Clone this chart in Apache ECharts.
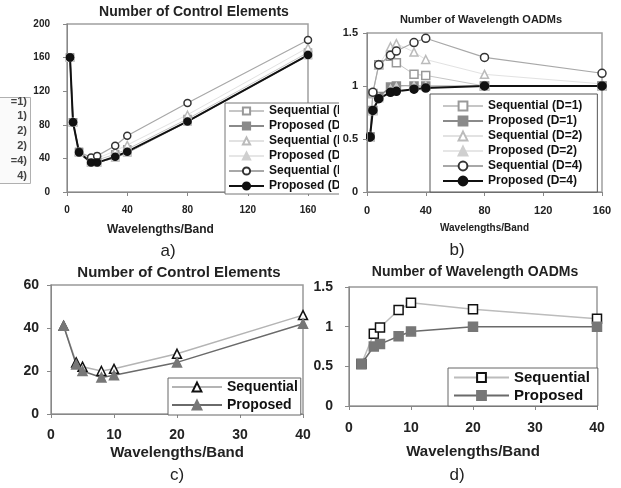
<!DOCTYPE html>
<html>
<head>
<meta charset="utf-8">
<script src="https://cdn.jsdelivr.net/npm/echarts@6/dist/echarts.min.js"></script>
<style>
  html, body { margin: 0; padding: 0; background: #fff; }
  #chart { width: 621px; height: 488px; }
</style>
</head>
<body>
<div id="chart"></div>
<script>
// wavelengths per band (x values)
const wlAB = [2, 4, 8, 16, 20, 32, 40, 80, 160];
const wlCD = [2, 4, 5, 8, 10, 20, 40];

// a) number of control elements
const seqD1A = [160, 83, 48, 37, 38, 45, 51, 87, 166];
const propD1A = [160, 83, 47, 35, 35, 41, 47, 84, 163];
const seqD2A = [160, 83, 48, 39, 40, 49, 56, 92, 172];
const propD2A = [160, 83, 47, 35, 35, 41, 47, 84, 163];
const seqD4A = [160, 83, 48, 41, 43, 55, 67, 106, 181];
const propD4A = [160, 83, 47, 35, 35, 42, 48, 84, 163];

// b) number of wavelength OADMs
const seqD1B = [0.52, 0.93, 1.20, 1.28, 1.22, 1.11, 1.10, 1.00, 1.00];
const propD1B = [0.52, 0.77, 0.90, 0.99, 1.00, 1.00, 1.00, 1.00, 1.00];
const seqD2B = [0.52, 0.93, 1.20, 1.37, 1.40, 1.32, 1.25, 1.11, 1.02];
const propD2B = [0.52, 0.77, 0.89, 0.97, 0.99, 1.00, 1.00, 1.00, 1.00];
const seqD4B = [0.52, 0.94, 1.20, 1.29, 1.33, 1.41, 1.45, 1.27, 1.12];
const propD4B = [0.52, 0.77, 0.88, 0.94, 0.95, 0.97, 0.98, 1.00, 1.00];

// c) control elements, d) OADMs
const seqC = [41, 24, 22, 20, 21, 28, 46];
const propC = [41, 23, 20, 17, 18, 24, 42];
const seqD = [0.53, 0.91, 0.99, 1.21, 1.30, 1.22, 1.10];
const propD = [0.53, 0.75, 0.78, 0.88, 0.94, 1.00, 1.00];

const legendAB = ['Sequential (D=1)', 'Proposed (D=1)', 'Sequential (D=2)', 'Proposed (D=2)', 'Sequential (D=4)', 'Proposed (D=4)'];
const legendCD = ['Sequential', 'Proposed'];
const ticksLeftA = ['=1)', '1)', '2)', '2)', '=4)', '4)'];

const FONT = '"Liberation Sans", Arial, sans-serif';

// per-series look (symbol, line colour, marker fill / border)
const looksAB = [
  { symbol: 'rect', line: '#c6c6c6', fill: '#fff', border: '#999', w: 1 },
  { symbol: 'rect', line: '#8a8a8a', fill: '#8a8a8a', border: '#8a8a8a', w: 1.5 },
  { symbol: 'triangle', line: '#e2e2e2', fill: '#fff', border: '#bbb', w: 1 },
  { symbol: 'triangle', line: '#e6e6e6', fill: '#cfcfcf', border: '#cfcfcf', w: 1 },
  { symbol: 'circle', line: '#a8a8a8', fill: '#fff', border: '#333', w: 1.2 },
  { symbol: 'circle', line: '#111', fill: '#111', border: '#111', w: 2 }
];

function pairs(xs, ys) {
  return xs.map((x, i) => [x, ys[i]]);
}

function mk(prefix, name, xs, ys, idx, look, size) {
  return {
    name: prefix + name,
    type: 'line',
    xAxisIndex: idx,
    yAxisIndex: idx,
    data: pairs(xs, ys),
    symbol: look.symbol,
    symbolSize: size,
    lineStyle: { color: look.line, width: look.w },
    itemStyle: { color: look.fill, borderColor: look.border, borderWidth: 1.5 },
    emphasis: { disabled: true }
  };
}

const seriesA = [seqD1A, propD1A, seqD2A, propD2A, seqD4A, propD4A]
  .map((ys, i) => mk('a:', legendAB[i], wlAB, ys, 0, looksAB[i], 7));
const seriesB = [seqD1B, propD1B, seqD2B, propD2B, seqD4B, propD4B]
  .map((ys, i) => mk('b:', legendAB[i], wlAB, ys, 1, looksAB[i], 8));
const seriesC = [
  mk('c:', 'Sequential', wlCD, seqC, 2, { symbol: 'triangle', line: '#b4b4b4', fill: '#fff', border: '#111', w: 1.5 }, 9),
  mk('c:', 'Proposed', wlCD, propC, 2, { symbol: 'triangle', line: '#6a6a6a', fill: '#777', border: '#777', w: 1.5 }, 9)
];
const seriesD = [
  mk('d:', 'Sequential', wlCD, seqD, 3, { symbol: 'rect', line: '#bcbcbc', fill: '#fff', border: '#111', w: 1.5 }, 9),
  mk('d:', 'Proposed', wlCD, propD, 3, { symbol: 'rect', line: '#6a6a6a', fill: '#777', border: '#777', w: 1.5 }, 9)
];

function xAx(idx, max, interval, size, nameSize, margin, nameGap, namePad) {
  return {
    type: 'value', gridIndex: idx, min: 0, max: max, interval: interval,
    axisLine: { lineStyle: { color: '#888' } },
    axisTick: { length: 4, lineStyle: { color: '#888' } },
    splitLine: { show: false },
    axisLabel: { margin: margin, color: '#222', fontFamily: FONT, fontSize: size, fontWeight: 'bold' },
    name: 'Wavelengths/Band', nameLocation: 'middle', nameGap: nameGap,
    nameTextStyle: { color: '#222', fontFamily: FONT, fontSize: nameSize, fontWeight: 'bold', padding: namePad || 0 }
  };
}

function yAx(idx, max, interval, size, margin, zlevel) {
  return {
    type: 'value', gridIndex: idx, min: 0, max: max, interval: interval, zlevel: zlevel || 0,
    axisLine: { show: true, lineStyle: { color: '#888' } },
    axisTick: { show: true, length: 4, lineStyle: { color: '#888' } },
    splitLine: { show: false },
    axisLabel: { margin: margin, color: '#222', fontFamily: FONT, fontSize: size, fontWeight: 'bold' }
  };
}

function lg(prefix, names, pos, size, itemW, itemH, gap, pad, border) {
  return {
    orient: 'vertical', left: pos[0], top: pos[1],
    data: names.map(n => prefix + n),
    formatter: n => n.slice(2),
    itemWidth: itemW, itemHeight: itemH, itemGap: gap, padding: pad,
    backgroundColor: '#fff', borderColor: border, borderWidth: 1, borderRadius: 0,
    selectedMode: false,
    textStyle: { color: '#111', fontFamily: FONT, fontSize: size, fontWeight: 'bold' }
  };
}

function ttl(text, x, y, size, weight) {
  return {
    text: text, left: x, top: y, textAlign: 'center', padding: 0,
    textStyle: { color: '#222', fontFamily: FONT, fontSize: size, fontWeight: weight }
  };
}

const chart = echarts.init(document.getElementById('chart'), null, { renderer: 'canvas' });
chart.setOption({
  backgroundColor: '#fff',
  animation: false,
  title: [
    ttl('Number of Control Elements', 194, 5, 14, 'bold'),
    ttl('Number of Wavelength OADMs', 481, 14, 11, 'bold'),
    ttl('Number of Control Elements', 179, 265, 15, 'bold'),
    ttl('Number of Wavelength OADMs', 475, 265, 14, 'bold'),
    ttl('a)', 168, 243, 17, 'normal'),
    ttl('b)', 457, 242, 17, 'normal'),
    ttl('c)', 177, 467, 17, 'normal'),
    ttl('d)', 457, 467, 17, 'normal')
  ],
  grid: [
    { left: 67, top: 24, width: 241, height: 168, show: true, borderColor: '#a0a0a0', borderWidth: 1.5 },
    { left: 367, top: 33, width: 235, height: 159, show: true, borderColor: '#a0a0a0', borderWidth: 1.5 },
    { left: 51, top: 285, width: 252, height: 129, show: true, borderColor: '#999', borderWidth: 1.5 },
    { left: 349, top: 287, width: 248, height: 119, show: true, borderColor: '#999', borderWidth: 1.5 }
  ],
  xAxis: [
    xAx(0, 160, 40, 10, 12, 13, 32, [0, 54, 0, 0]),
    xAx(1, 160, 40, 11, 10, 13, 31),
    xAx(2, 40, 10, 14, 15, 14, 31),
    xAx(3, 40, 10, 14, 15, 15, 38)
  ],
  yAxis: [
    yAx(0, 200, 40, 10, 17),
    yAx(1, 1.5, 0.5, 11, 9, 1),
    yAx(2, 60, 20, 14, 12),
    yAx(3, 1.5, 0.5, 14, 16)
  ],
  legend: [
    lg('a:', legendAB, [225, 103], 12, 35, 9, 3, [2, 2, 2, 3], '#777'),
    lg('b:', legendAB, [430, 94], 12, 40, 11, 3, [6, 15, 5, 12], '#555'),
    lg('c:', legendCD, [168, 378], 14, 50, 11, 4, [2, 3, 3, 3], '#666'),
    lg('d:', legendCD, [448, 368], 15, 55, 11, 3, [2, 8, 3, 5], '#666')
  ],
  graphic: [
    // piece of another legend peeking in on the left edge
    { type: 'rect', left: -2, top: 97, shape: { width: 32, height: 86 },
      style: { fill: '#fafafa', stroke: '#b0b0b0', lineWidth: 1 }, z: 1 },
    ...ticksLeftA.map((t, i) => ({
      type: 'text', right: 594, top: 96 + i * 14.8, z: 2,
      style: { text: t, fill: '#444', font: 'bold 11px ' + FONT }
    })),
    // panel b covers the end of panel a's legend
    { type: 'rect', left: 339, top: 98, shape: { width: 27, height: 100 },
      style: { fill: '#fff' }, z: 10 }
  ],
  series: [...seriesA, ...seriesB, ...seriesC, ...seriesD]
});
</script>
</body>
</html>
